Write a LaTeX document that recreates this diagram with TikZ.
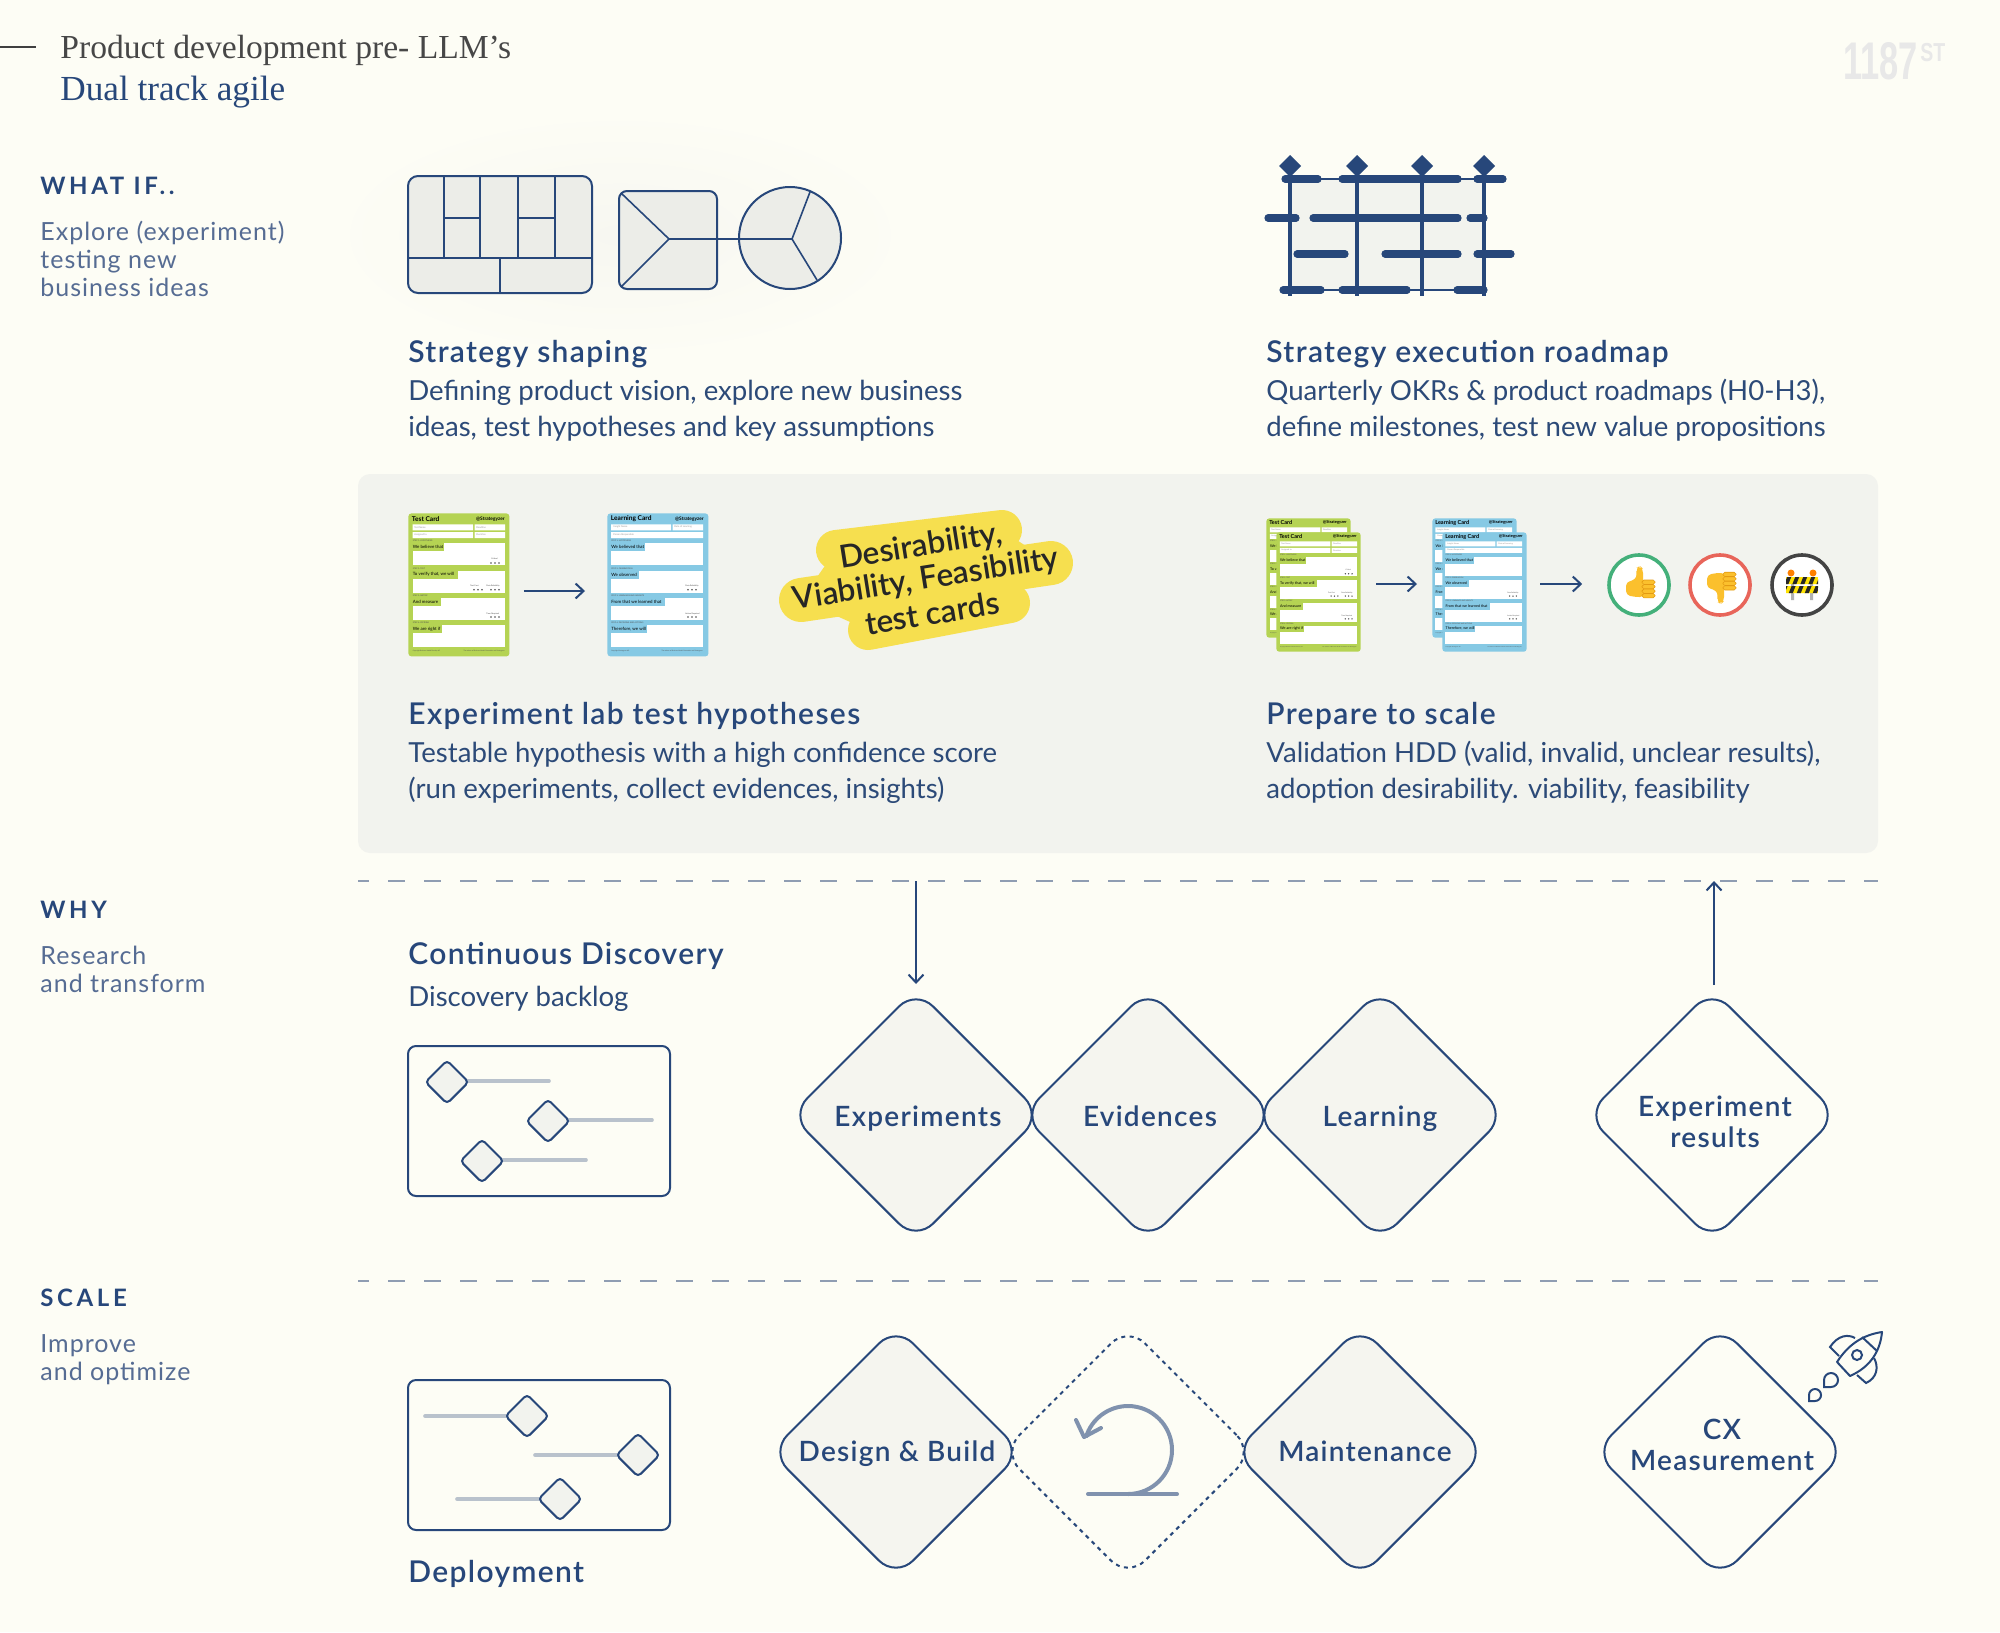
\documentclass[tikz,border=0pt]{standalone}
\usepackage{fontspec}
\setmainfont{Lato}
\newfontfamily\titlefont{Liberation Serif}
\newfontfamily\logofont{Liberation Sans}
\newfontfamily\spacedfont[LetterSpace=15]{Lato}
\newfontfamily\leftfont[LetterSpace=4]{Lato}
\newfontfamily\headfont[LetterSpace=4.5]{Lato Semibold}
\newfontfamily\blobfont{Lato Semibold}
\usetikzlibrary{arrows.meta}
\usetikzlibrary{calc}
\usetikzlibrary{shapes.geometric}

\definecolor{pagebg}{HTML}{FDFDF5}
\definecolor{panelbg}{HTML}{F2F3EE}
\definecolor{diamondbg}{HTML}{F5F5EF}
\definecolor{canvasbg}{HTML}{ECEDE8}
\definecolor{glowbg}{HTML}{F7F7F1}
\definecolor{navy}{HTML}{27477A}
\definecolor{bodyblue}{HTML}{2C4A78}
\definecolor{leftblue}{HTML}{566C93}
\definecolor{softline}{HTML}{B9C2CC}
\definecolor{loopblue}{HTML}{8092AE}
\definecolor{cutgrey}{HTML}{8F9DB2}
\definecolor{cardgreen}{HTML}{B5D353}
\definecolor{cardblue}{HTML}{86C9E4}
\definecolor{blobyellow}{HTML}{F6DF4F}
\definecolor{emoji}{HTML}{FBC02D}
\definecolor{emojidark}{HTML}{E39A12}
\definecolor{votegreen}{HTML}{44B07A}
\definecolor{votered}{HTML}{E8655A}
\definecolor{votedark}{HTML}{444444}

\tikzset{
  heading/.style={anchor=base west,inner sep=0pt,text=navy,font=\fontsize{15}{17}\selectfont\headfont},
  bodytext/.style={anchor=base west,inner sep=0pt,text=bodyblue,font=\fontsize{13.8}{18}\selectfont,align=left},
  sidehead/.style={anchor=base west,inner sep=0pt,text=navy,font=\fontsize{12}{14}\selectfont\spacedfont\bfseries},
  sidetext/.style={anchor=base west,inner sep=0pt,text=leftblue,font=\fontsize{12.5}{14}\selectfont\leftfont,align=left},
  bigdiamond/.style={diamond,draw=navy,line width=1pt,fill=#1,inner sep=0pt,minimum width=126pt,minimum height=126pt,
    rounded corners=12pt},
  bigdiamond/.default=diamondbg,
  diamondtext/.style={anchor=base,inner sep=0pt,text=navy,align=center,font=\fontsize{14}{15.5}\selectfont\headfont},
  tinydiamond/.style={diamond,draw=navy,line width=1pt,fill=panelbg,inner sep=0pt,minimum width=22pt,minimum height=22pt,rounded corners=2pt},
  softbar/.style={softline,line width=1.8pt,line cap=round},
  sketch/.style={navy,line width=1pt},
  flowarrow/.style={navy,line width=1pt,-{Straight Barb[length=4pt,width=7.5pt]}},
  cutline/.style={draw=cutgrey,line width=.6pt,dash pattern=on 8.25pt off 9.75pt,dash phase=3pt},
  road/.style={navy,line width=3.6pt,line cap=round},
  roadpost/.style={navy,line width=2pt},
  vote/.style={circle,fill=white,line width=1.8pt,minimum size=30pt,inner sep=0pt},
  cardbody/.style={rectangle,anchor=north west,minimum width=50.5pt,minimum height=71.5pt,rounded corners=1.5pt,inner sep=0pt},
  cardhead/.style={inner sep=0pt,text=black,font=\fontsize{3.3}{4}\selectfont\bfseries},
  cardtag/.style={inner sep=0pt,anchor=west,text=black,font=\fontsize{2.2}{3}\selectfont},
  cardtiny/.style={inner sep=0pt,anchor=west,text=black!70,font=\fontsize{1}{1.2}\selectfont},
  cardgrey/.style={inner sep=0pt,anchor=west,text=black!40,font=\fontsize{1.2}{1.4}\selectfont},
  thumbfist/.pic={
    \fill[emoji,rounded corners=2pt] (-13,-3) -- (-4,-5) -- (-2,-10) -- (-3,-17) -- (1,-19) -- (4,-16) -- (4,-4) -- (5,12) -- (-4,12) -- (-13,10) -- cycle;
    \foreach \y in {-5,-.5,4,8.5} {
      \fill[emoji,draw=emojidark,line width=.3pt,rounded corners=.9pt] (3,\y) rectangle (16,\y+4.3);
    }
  },
}

% card with the hypothesis side: name, corner, size
\newcommand{\testcard}[3]{
  \begin{scope}[shift={(#2)},scale=#3,transform shape]
    \node[cardbody,fill=cardgreen] (#1) at (0,0) {};
    \node[cardhead,anchor=west] (#1title) at (3.5,5.7) {Test Card};
    \node[cardhead,anchor=east,font=\fontsize{2.4}{3}\selectfont\bfseries] (#1brand) at (97,5.7) {@Strategyzer};
    \fill[white] (4.5,11.3) rectangle (65,17.3) (66.5,11.3) rectangle (97,17.3)
                 (4.5,19) rectangle (65,25) (66.5,19) rectangle (97,25);
    \node[cardgrey] (#1fa) at (6,14.3) {Test Name};
    \node[cardgrey] (#1fb) at (68,14.3) {Deadline};
    \node[cardgrey] (#1fc) at (6,22) {Assigned to};
    \node[cardgrey] (#1fd) at (68,22) {Duration};
    \foreach \top/\stepname/\tagtext/\tagw [count=\i] in {30.3/{STEP 1: HYPOTHESIS}/{We believe that}/31,
        58/{STEP 2: TEST}/{To verify that, we will}/45,
        85.3/{STEP 3: METRIC}/{And measure}/28,
        112.3/{STEP 4: CRITERIA}/{We are right if}/29} {
      \fill[white] (4.5,\top) rectangle (97,\top+22);
      \fill[cardgreen] (4.5,\top) rectangle (4.5+\tagw,\top+7.7);
      \node[cardtiny] (#1step\i) at (4.5,\top-2.7) {\stepname};
      \node[cardtag] (#1tag\i) at (4.5,\top+3.6) {\tagtext};
    }
    \node[cardtiny] (#1crit) at (83,45.7) {Critical};
    \node[cardtiny] (#1cost) at (62,72.7) {Test Cost};
    \node[cardtiny] (#1rely) at (78,72.7) {Data Reliability};
    \node[cardtiny] (#1time) at (78,100.7) {Time Required};
    \foreach \xa/\ya in {83/50,87/50,91/50,66/76.7,70/76.7,74/76.7,83/76.7,87/76.7,91/76.7,83/104,87/104,91/104} {
      \fill[black!70] (\xa,\ya) circle (.9);
    }
    \node[cardtiny,font=\fontsize{.8}{1}\selectfont] (#1copy) at (4.5,138) {Copyright Business Model Foundry AG};
    \node[cardtiny,anchor=east,font=\fontsize{.8}{1}\selectfont] (#1make) at (97,138) {The makers of Business Model Generation and Strategyzer};
  \end{scope}
}
% card with the learning side
\newcommand{\learncard}[3]{
  \begin{scope}[shift={(#2)},scale=#3,transform shape]
    \node[cardbody,fill=cardblue] (#1) at (0,0) {};
    \node[cardhead,anchor=west] (#1title) at (3.5,5.7) {Learning Card};
    \node[cardhead,anchor=east,font=\fontsize{2.4}{3}\selectfont\bfseries] (#1brand) at (97,5.7) {@Strategyzer};
    \fill[white] (4,11.3) rectangle (64,17.3) (65.5,11.3) rectangle (96,17.3) (4,19) rectangle (96,25);
    \node[cardgrey] (#1fa) at (6,14.3) {Insight Name};
    \node[cardgrey] (#1fb) at (67,14.3) {Date of Learning};
    \node[cardgrey] (#1fc) at (6,22) {Person Responsible};
    \foreach \top/\stepname/\tagtext/\tagw [count=\i] in {30.3/{STEP 1: HYPOTHESIS}/{We believed that}/34,
        58/{STEP 2: OBSERVATION}/{We observed}/28,
        85.3/{STEP 3: LEARNINGS AND INSIGHTS}/{From that we learned that}/54,
        112.3/{STEP 4: DECISIONS AND ACTIONS}/{Therefore, we will}/36} {
      \fill[white] (4,\top) rectangle (96,\top+22);
      \fill[cardblue] (4,\top) rectangle (4+\tagw,\top+7.7);
      \node[cardtiny] (#1step\i) at (4,\top-2.7) {\stepname};
      \node[cardtag] (#1tag\i) at (4,\top+3.6) {\tagtext};
    }
    \node[cardtiny] (#1rely) at (78,72.7) {Data Reliability};
    \node[cardtiny] (#1act) at (78,100.7) {Action Required};
    \foreach \xa/\ya in {81/76.7,85/76.7,89/76.7,81/104,85/104,89/104} {
      \fill[black!70] (\xa,\ya) circle (.9);
    }
    \node[cardtiny,font=\fontsize{.8}{1}\selectfont] (#1copy) at (4,138) {Copyright Strategyzer AG};
    \node[cardtiny,anchor=east,font=\fontsize{.8}{1}\selectfont] (#1make) at (96,138) {The makers of Business Model Generation and Strategyzer};
  \end{scope}
}

\begin{document}
\begin{tikzpicture}[x=.5pt,y=-.5pt]
\useasboundingbox (0,0) rectangle (2000,1632);
\fill[pagebg] (0,0) rectangle (2000,1632);

% page title
\coordinate (ruleleft) at (0,47);
\coordinate (ruleright) at (36,47);
\draw[black!75,line width=1pt] (ruleleft) -- (ruleright);
\node[anchor=base west,inner sep=0pt,text=black!72,font=\fontsize{16.8}{18}\selectfont\titlefont] (titleone) at (60,59) {Product development pre- LLM’s};
\node[anchor=base west,inner sep=0pt,text=navy,font=\fontsize{17.6}{18}\selectfont\titlefont] (titletwo) at (60,101) {Dual track agile};
\node[anchor=base west,inner sep=0pt,text=black!9,xscale=.65,font=\fontsize{26.5}{28}\selectfont\logofont\bfseries] (logonum) at (1843,80) {1187};
\node[anchor=base west,inner sep=0pt,text=black!9,xscale=.75,font=\fontsize{13}{14}\selectfont\logofont\bfseries] (logost) at (1920,62) {ST};

% left column
\node[sidehead] (whatif) at (40,194) {WHAT IF..};
\node[sidetext] (whatiftext) at (40,296) {Explore (experiment)\\testing new\\business ideas};
\node[sidehead] (why) at (40,918) {WHY};
\node[sidetext] (whytext) at (40,992) {Research\\and transform};
\node[sidehead] (scale) at (40,1306) {SCALE};
\node[sidetext] (scaletext) at (40,1380) {Improve\\and optimize};

% canvas with the glow behind it
\shade[inner color=glowbg,outer color=pagebg,draw=none] (620,235) ellipse (295 and 125);
\draw[sketch,fill=canvasbg,rounded corners=5pt] (408,176) rectangle (592,293);
\draw[sketch,line width=.8pt] (408,258) -- (592,258) (444,176) -- (444,258) (480,176) -- (480,258)
  (518,176) -- (518,258) (555,176) -- (555,258) (444,218) -- (480,218) (518,218) -- (555,218) (500,258) -- (500,293);
\coordinate (triapex) at (669,239);
\coordinate (piecenter) at (792,239);
\draw[sketch,fill=canvasbg,rounded corners=4pt] (619,191) rectangle (717,289);
\draw[sketch,line width=.8pt] (621,193) -- (triapex) -- (621,287);
\draw[sketch,fill=canvasbg] (790,238) circle (51);
\draw[sketch,line width=.8pt] (triapex) -- (piecenter) -- (810,192) (piecenter) -- (817,280);

% roadmap
\fill[panelbg] (1290,179) rectangle (1484,290);
\draw[navy,line width=1pt] (1290,179) -- (1484,179) (1290,290) -- (1484,290);
\foreach \xa in {1290,1357,1422,1484} {
  \draw[roadpost] (\xa,172) -- (\xa,296);
  \fill[navy] (\xa,155) -- (\xa+11,166) -- (\xa,177) -- (\xa-11,166) -- cycle;
}
\foreach \ya/\xa/\xb in {179/1285/1318,179/1342/1458,179/1477/1503,
    218/1268/1296,218/1313/1458,218/1470/1484,
    254/1297/1345,254/1385/1458,254/1477/1511,
    290/1283/1321,290/1342/1407,290/1457/1484} {
  \draw[road] (\xa,\ya) -- (\xb,\ya);
}

% section one texts
\node[heading] (shapehead) at (408,362.5) {Strategy shaping};
\node[bodytext] (shapetext) at (408,436) {Defining product vision, explore new business\\ideas, test hypotheses and key assumptions};
\node[heading] (roadhead) at (1266,362.5) {Strategy execution roadmap};
\node[bodytext] (roadtext) at (1266,436) {Quarterly OKRs \& product roadmaps (H0-H3),\\define milestones, test new value propositions};

% experiment panel
\fill[panelbg,rounded corners=6pt] (358,474) rectangle (1878,853);
\testcard{testa}{408,513}{1}
\learncard{learna}{607,513}{1}
\draw[flowarrow,shorten <=7pt,shorten >=11pt] (testa.east |- 0,591) -- (learna.west |- 0,591);

\draw[blobyellow,line width=20pt,line cap=round] (836,550) -- (1002,530);
\draw[blobyellow,line width=22pt,line cap=round] (801,600) -- (1051,563);
\draw[blobyellow,line width=20pt,line cap=round] (868,630) -- (1010,603);
\fill[blobyellow] (836,550) -- (1002,530) -- (1051,563) -- (1010,603) -- (868,630) -- (801,600) -- cycle;
\node[rotate=9,inner sep=0pt,text=black!85,font=\fontsize{15.8}{17}\selectfont\blobfont] (blobone) at (921,547) {Desirability,};
\node[rotate=9,inner sep=0pt,text=black!85,font=\fontsize{15.8}{17}\selectfont\blobfont] (blobtwo) at (926,580) {Viability, Feasibility};
\node[rotate=9,inner sep=0pt,text=black!85,font=\fontsize{15.8}{17}\selectfont\blobfont] (blobthree) at (932,613) {test cards};

\testcard{testb}{1266,518}{.835}
\testcard{testc}{1276,532}{.835}
\learncard{learnb}{1432,518}{.835}
\learncard{learnc}{1442,532}{.835}
\coordinate (scalerow) at (0,584);
\node[vote,draw=votegreen] (voteup) at (1639,585) {};
\node[vote,draw=votered] (votedown) at (1720,585) {};
\node[vote,draw=votedark] (votewait) at (1802,585) {};
\draw[flowarrow,shorten <=7.5pt,shorten >=7.5pt] (testc.east |- scalerow) -- (learnb.west |- scalerow);
\draw[flowarrow,shorten <=6.5pt,shorten >=12.5pt] (learnc.east |- scalerow) -- (voteup.west |- scalerow);

\pic at (1639,585) {thumbfist};
\pic[yscale=-1] at (1720,585) {thumbfist};
% roadworks barrier
\fill[black!30] (1791,577) rectangle (1794,600) (1810,577) rectangle (1813,600);
\fill[orange] (1791,573) circle (3.5) (1813,573) circle (3.5);
\begin{scope}
  \clip (1786,577) rectangle (1818,584) (1786,586) rectangle (1818,593);
  \fill[yellow!85!orange] (1786,575) rectangle (1818,595);
  \foreach \xa in {1780,1788,...,1820} {
    \fill[black!85] (\xa,595) -- (\xa+4,595) -- (\xa+12,575) -- (\xa+8,575) -- cycle;
  }
\end{scope}

\node[heading] (labhead) at (408,724) {Experiment lab test hypotheses};
\node[bodytext] (labtext) at (408,798) {Testable hypothesis with a high confidence score\\(run experiments, collect evidences, insights)};
\node[heading] (preparehead) at (1266,724) {Prepare to scale};
\node[bodytext] (preparetext) at (1266,798) {Validation HDD (valid, invalid, unclear results),\\adoption desirability. viability, feasibility};

% dashed separators
\coordinate (cutaleft) at (358,881);
\coordinate (cutaright) at (1878,881);
\coordinate (cutbleft) at (358,1281);
\coordinate (cutbright) at (1878,1281);
\draw[cutline] (cutaleft) -- (cutaright);
\draw[cutline] (cutbleft) -- (cutbright);

% why row
\node[heading] (discohead) at (408,964) {Continuous Discovery};
\node[bodytext] (discotext) at (408,1006) {Discovery backlog};
\draw[sketch,rounded corners=4pt] (408,1046) rectangle (670,1196);
\foreach \xa/\ya/\xb in {447/1082/549,548/1121/652,482/1161/586} {
  \draw[softbar] (\xa,\ya-1) -- (\xb,\ya-1);
  \node[tinydiamond] at (\xa,\ya) {};
}
\node[bigdiamond] (expnode) at (916,1115) {};
\node[bigdiamond] (evinode) at (1148,1115) {};
\node[bigdiamond] (learnnode) at (1380,1115) {};
\node[bigdiamond=pagebg] (resnode) at (1712,1115) {};
\node[diamondtext] (exptext) at (918,1126) {Experiments};
\node[diamondtext] (evitext) at (1150,1126) {Evidences};
\node[diamondtext] (learntext) at (1380,1126) {Learning};
\node[diamondtext] (restext) at (1715,1147) {Experiment\\results};
\coordinate (downtop) at (916,881);
\coordinate (upbottom) at (1714,985);
\coordinate (uptop) at (1714,881);
\draw[flowarrow,shorten >=2pt] (downtop) -- (expnode.north);
\draw[flowarrow] (upbottom) -- (uptop);

% scale row
\draw[sketch,rounded corners=4pt] (408,1380) rectangle (670,1530);
\foreach \xa/\ya/\xb in {527/1416/425,638/1455/535,560/1499/457} {
  \draw[softbar] (\xa,\ya) -- (\xb,\ya);
  \node[tinydiamond] at (\xa,\ya) {};
}
\node[heading] (deployhead) at (408,1582) {Deployment};
\node[bigdiamond] (buildnode) at (896,1452) {};
\node[diamond,draw=navy,line width=1pt,dash pattern=on 2pt off 2.2pt,inner sep=0pt,minimum width=126pt,minimum height=126pt,rounded corners=12pt] (loopnode) at (1128,1452) {};
\node[bigdiamond] (maintnode) at (1360,1452) {};
\node[bigdiamond=pagebg] (cxnode) at (1720,1452) {};
\node[diamondtext] (buildtext) at (897,1461) {Design \& Build};
\node[diamondtext] (mainttext) at (1365,1461) {Maintenance};
\node[diamondtext] (cxtext) at (1722,1470) {CX\\Measurement};

% loop icon
\draw[loopblue,line width=2pt,line cap=round] (1088,1494) -- (1177,1494);
\draw[loopblue,line width=2pt] (1128,1494) arc[start angle=90,end angle=-163,radius=44];
\draw[loopblue,line width=2pt,line cap=round,line join=round] (1076,1420) -- (1084,1437) -- (1101,1428);

% rocket
\draw[sketch,line join=round] (1837,1362) .. controls (1848,1345) and (1862,1335) .. (1882,1332)
  .. controls (1880,1352) and (1870,1367) .. (1850,1376) -- cycle;
\draw[sketch] (1862,1337) -- (1877,1351);
\draw[sketch] (1857,1355) circle (5);
\draw[sketch] (1839,1356) -- (1830,1347) .. controls (1838,1335) and (1848,1334) .. (1855,1338);
\draw[sketch] (1857,1375) -- (1866,1383) .. controls (1877,1378) and (1879,1367) .. (1874,1358);
\draw[sketch] (1824,1387) -- (1824,1380) arc[start angle=180,end angle=450,radius=7] -- cycle;
\draw[sketch] (1809,1401) -- (1809,1395) arc[start angle=180,end angle=450,radius=6] -- cycle;
\end{tikzpicture}
\end{document}
